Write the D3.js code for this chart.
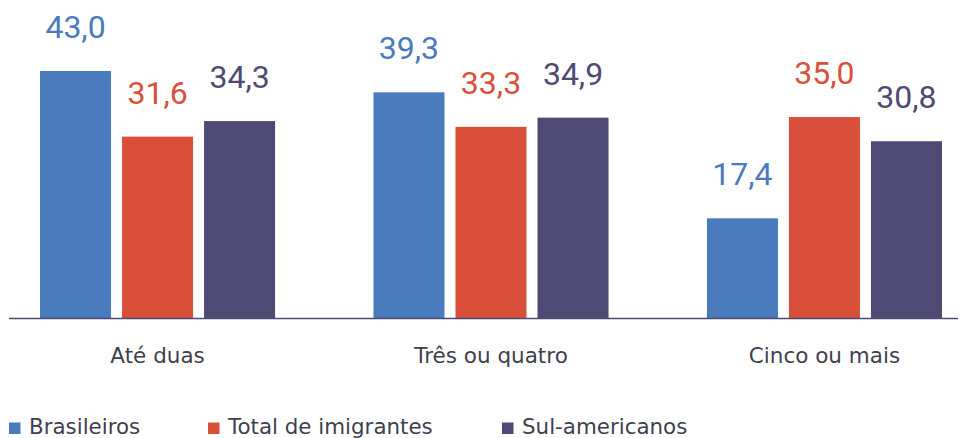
<!DOCTYPE html>
<html>
<head>
<meta charset="utf-8">
<script src="https://cdn.jsdelivr.net/npm/d3@7/dist/d3.min.js"></script>
<style>
  html, body { margin: 0; padding: 0; background: #fff; }
  svg { display: block; }
</style>
</head>
<body>
<svg id="chart" width="960" height="438"></svg>
<script>
// Número de filhos por grupo de origem (%)
const categories = ["Até duas", "Três ou quatro", "Cinco ou mais"];
const seriesNames = ["Brasileiros", "Total de imigrantes", "Sul-americanos"];
const brasileiros = [43.0, 39.3, 17.4];
const totalImigrantes = [31.6, 33.3, 35.0];
const sulAmericanos = [34.3, 34.9, 30.8];
const colors = ["#4a7bbd", "#d94f3a", "#4f4a74"];

const labelFont = "'DejaVu Sans', sans-serif";
const valueFont = "Roboto, sans-serif";

const seriesValues = [brasileiros, totalImigrantes, sulAmericanos];
const rows = categories.map((c, i) => ({
  category: c,
  values: seriesNames.map((s, j) => ({ series: s, value: seriesValues[j][i], color: colors[j] }))
}));

const svg = d3.select("#chart");
const baseline = 318.5;

const x0 = d3.scaleBand().domain(categories).range([40, 942]).paddingInner(0.295).paddingOuter(0);
const x1 = d3.scaleBand().domain(seriesNames).range([0, x0.bandwidth()]).paddingInner(0.134).paddingOuter(0);
const y = d3.scaleLinear().domain([0, 43]).range([baseline, 71]);

const fmt = v => d3.format(".1f")(v).replace(".", ",");

const groups = svg.selectAll("g.group")
  .data(rows)
  .join("g")
  .attr("class", "group")
  .attr("transform", d => `translate(${x0(d.category)},0)`);

groups.selectAll("rect")
  .data(d => d.values)
  .join("rect")
  .attr("x", d => x1(d.series))
  .attr("width", x1.bandwidth())
  .attr("y", d => y(d.value))
  .attr("height", d => baseline - y(d.value))
  .attr("fill", d => d.color);

groups.selectAll("text.value")
  .data(d => d.values)
  .join("text")
  .attr("class", "value")
  .attr("x", d => x1(d.series) + x1.bandwidth() / 2)
  .attr("y", d => y(d.value) - 33)
  .attr("text-anchor", "middle")
  .style("font-family", valueFont)
  .style("font-size", "32px")
  .attr("fill", d => d.color)
  .text(d => fmt(d.value));

// linha de base
svg.append("line")
  .attr("x1", 9).attr("x2", 958)
  .attr("y1", baseline).attr("y2", baseline)
  .attr("stroke", "#4f4a74")
  .attr("stroke-width", 1.6);

// rótulos das categorias
const xAxis = d3.axisBottom(x0).tickSize(0).tickPadding(0);
const axisG = svg.append("g")
  .attr("transform", `translate(0,${baseline})`)
  .call(xAxis);
axisG.select(".domain").remove();
axisG.selectAll("text")
  .attr("dy", 0)
  .attr("y", 44)
  .style("font-size", "21.5px")
  .style("font-family", labelFont)
  .attr("fill", "#3f3f4f");

// legenda
const legendX = [9, 208, 502];
const legend = svg.selectAll("g.legend")
  .data(seriesNames)
  .join("g")
  .attr("class", "legend")
  .attr("transform", (d, i) => `translate(${legendX[i]},0)`);
legend.append("rect")
  .attr("x", 0).attr("y", 422.5)
  .attr("width", 11.5).attr("height", 11.5)
  .attr("fill", (d, i) => colors[i]);
legend.append("text")
  .attr("x", 20).attr("y", 434)
  .style("font-size", "21.4px")
  .style("font-family", labelFont)
  .attr("fill", "#3f3f4f")
  .text(d => d);
</script>
</body>
</html>
